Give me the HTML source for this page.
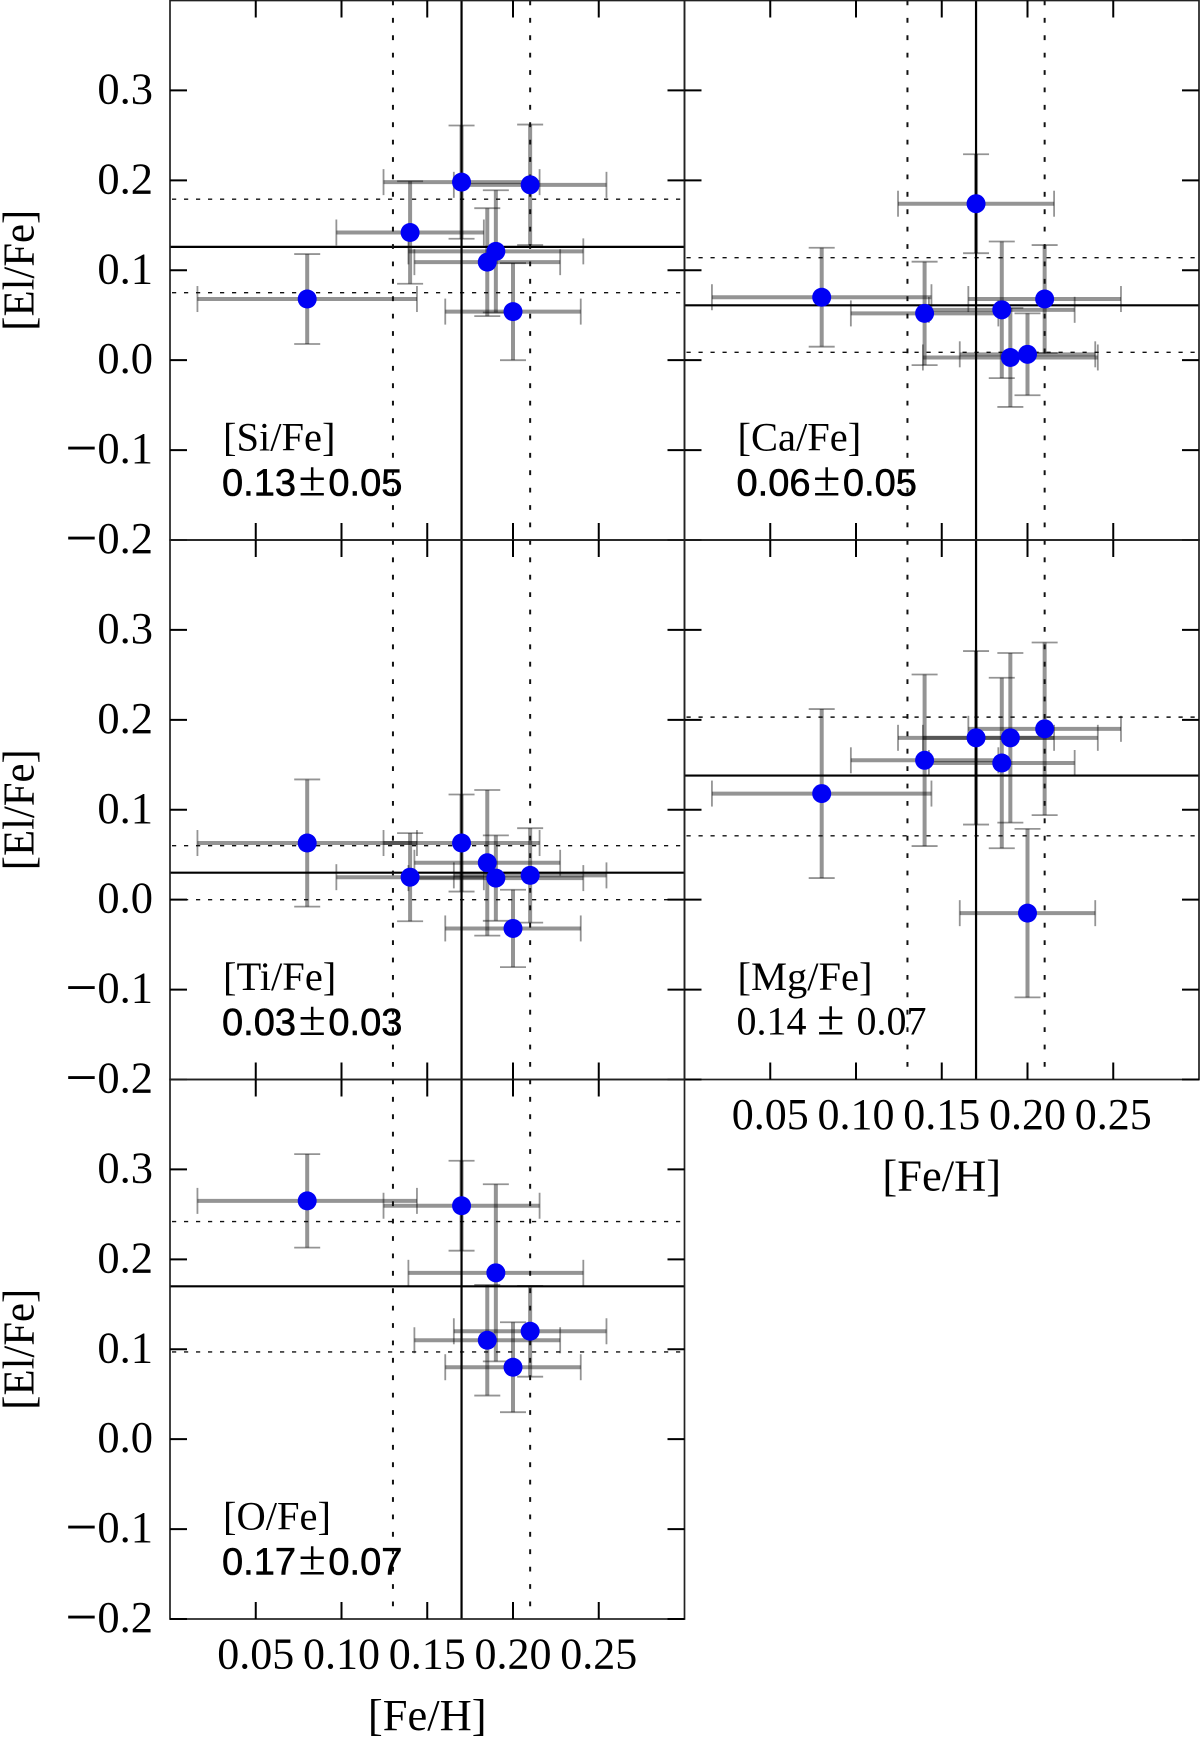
<!DOCTYPE html>
<html lang="en">
<head>
<meta charset="utf-8">
<title>[El/Fe] versus [Fe/H]</title>
<style>
html,body{margin:0;padding:0;background:#fff;}
svg{display:block;}
text{fill:#000;}
.serif{font-family:"Liberation Serif","DejaVu Serif",serif;}
.sans{font-family:"Liberation Sans","DejaVu Sans",sans-serif;}
</style>
</head>
<body>
<svg id="chart" xmlns="http://www.w3.org/2000/svg" width="1200" height="1741" viewBox="0 0 1200 1741"></svg>
<script>
const fehValues = [0.08, 0.14, 0.17, 0.185, 0.19, 0.20, 0.21];
const fehErrors = [0.064, 0.043, 0.0455, 0.0425, 0.051, 0.0395, 0.0445];
const fehReference = [0.17, 0.13, 0.21];

const siValues = [0.068, 0.142, 0.198, 0.109, 0.121, 0.054, 0.195];
const siErrors = [0.050, 0.057, 0.063, 0.060, 0.068, 0.054, 0.067];
const siReference = [0.126, 0.179, 0.075];

const caValues = [0.070, 0.052, 0.174, 0.056, 0.003, 0.0065, 0.068];
const caErrors = [0.055, 0.0575, 0.055, 0.076, 0.055, 0.0455, 0.060];
const caReference = [0.061, 0.114, 0.0087];

const tiValues = [0.063, 0.025, 0.063, 0.041, 0.024, -0.032, 0.027];
const tiErrors = [0.0707, 0.049, 0.054, 0.081, 0.0475, 0.043, 0.0525];
const tiReference = [0.030, 0.060, 0.000];

const mgValues = [0.118, 0.155, 0.180, 0.152, 0.180, -0.015, 0.190];
const mgErrors = [0.094, 0.0954, 0.0965, 0.0948, 0.0943, 0.0937, 0.096];
const mgReference = [0.138, 0.203, 0.071];

const oValues = [0.265, null, 0.2596, 0.110, 0.185, 0.080, 0.120];
const oErrors = [0.052, null, 0.050, 0.0615, 0.0985, 0.050, 0.0505];
const oReference = [0.170, 0.242, 0.097];

const xTicks = [0.05, 0.10, 0.15, 0.20, 0.25];
const xTickLabels = ['0.05', '0.10', '0.15', '0.20', '0.25'];
const yTicks = [-0.2, -0.1, 0.0, 0.1, 0.2, 0.3];
const yTickLabels = ['\u22120.2', '\u22120.1', '0.0', '0.1', '0.2', '0.3'];

const svgNS = 'http://www.w3.org/2000/svg';
const chart = document.getElementById('chart');
const PANEL_W = 514.5;
const PANEL_H = 539.5;
const LEFT = 170;
const TOP = 0.5;

function makeAxes(col, row) {
  const left = LEFT + col * PANEL_W;
  const top = TOP + row * PANEL_H;
  return {
    left: left,
    top: top,
    right: left + PANEL_W,
    bottom: top + PANEL_H,
    x: function (v) { return left + (v / 0.3) * PANEL_W; },
    y: function (v) { return top + ((0.4 - v) / 0.6) * PANEL_H; }
  };
}

function addLine(parent, name, x1, y1, x2, y2, stroke, width, dash) {
  const el = document.createElementNS(svgNS, 'line');
  
  
  el.setAttribute('x1', x1);
  el.setAttribute('y1', y1);
  el.setAttribute('x2', x2);
  el.setAttribute('y2', y2);
  el.setAttribute('stroke', stroke);
  el.setAttribute('stroke-width', width);
  if (dash) el.setAttribute('stroke-dasharray', dash);
  parent.appendChild(el);
  return el;
}

function addText(parent, name, str, x, y, size, cls, anchor) {
  const el = document.createElementNS(svgNS, 'text');
  
  
  el.setAttribute('x', x);
  el.setAttribute('y', y);
  el.setAttribute('font-size', size);
  el.setAttribute('class', cls);
  el.setAttribute('text-anchor', anchor || 'start');
  el.textContent = str;
  parent.appendChild(el);
  return el;
}

function addSpan(parent, str, size, dy, dx, cls, noStroke) {
  const span = document.createElementNS(svgNS, 'tspan');
  if (size) span.setAttribute('font-size', size);
  if (dy) span.setAttribute('dy', dy);
  if (dx) span.setAttribute('dx', dx);
  if (cls) span.setAttribute('class', cls);
  if (noStroke) span.setAttribute('stroke', 'none');
  span.textContent = str;
  parent.appendChild(span);
  return span;
}

function addGroup(parent, name) {
  const el = document.createElementNS(svgNS, 'g');
  
  
  parent.appendChild(el);
  return el;
}

function addTickLabelY(parent, name, label, x, y) {
  const el = addText(parent, name, '', x, y, 44.5, 'serif', 'end');
  if (label.charAt(0) === '\u2212') {
    addSpan(el, '\u2212', 57, 4, 0);
    addSpan(el, label.slice(1), 0, -4, 0);
  } else {
    el.textContent = label;
  }
  return el;
}

function drawPanel(key, col, row, values, errors, reference, showYLabels, showXLabels) {
  const ax = makeAxes(col, row);
  const g = addGroup(chart, key + '-panel');
  const CAP = 13;
  const BAR = 'rgba(0,0,0,0.42)';

  // x and y error bars
  const bars = addGroup(g, key + '-error-bars');
  values.forEach(function (v, i) {
    if (v === null) return;
    const cx = ax.x(fehValues[i]);
    const cy = ax.y(v);
    const xa = ax.x(fehValues[i] - fehErrors[i]);
    const xb = ax.x(fehValues[i] + fehErrors[i]);
    const ya = ax.y(v + errors[i]);
    const yb = ax.y(v - errors[i]);
    addLine(bars, key + '-x-error-' + i, xa, cy, xb, cy, BAR, 4);
    addLine(bars, key + '-y-error-' + i, cx, ya, cx, yb, BAR, 4);
    addLine(bars, key + '-x-cap-low-' + i, xa, cy - CAP, xa, cy + CAP, BAR, 1.8);
    addLine(bars, key + '-x-cap-high-' + i, xb, cy - CAP, xb, cy + CAP, BAR, 1.8);
    addLine(bars, key + '-y-cap-high-' + i, cx - CAP, ya, cx + CAP, ya, BAR, 1.8);
    addLine(bars, key + '-y-cap-low-' + i, cx - CAP, yb, cx + CAP, yb, BAR, 1.8);
  });

  // reference lines: mean and one-sigma limits
  addLine(g, key + '-mean-line', ax.left, ax.y(reference[0]), ax.right, ax.y(reference[0]), '#000', 2.2);
  addLine(g, key + '-upper-sigma-line', ax.left + 2, ax.y(reference[1]), ax.right, ax.y(reference[1]), '#111', 1.4, '4.2 7.8');
  addLine(g, key + '-lower-sigma-line', ax.left + 2, ax.y(reference[2]), ax.right, ax.y(reference[2]), '#111', 1.4, '4.2 7.8');
  addLine(g, key + '-feh-mean-line', ax.x(fehReference[0]), ax.top, ax.x(fehReference[0]), ax.bottom, '#000', 2.2);
  addLine(g, key + '-feh-lower-line', ax.x(fehReference[1]), ax.top, ax.x(fehReference[1]), ax.bottom, '#111', 2, '4.8 12.6');
  addLine(g, key + '-feh-upper-line', ax.x(fehReference[2]), ax.top, ax.x(fehReference[2]), ax.bottom, '#111', 2, '4.8 12.6');

  // frame
  const frame = document.createElementNS(svgNS, 'rect');
  
  
  frame.setAttribute('x', ax.left);
  frame.setAttribute('y', ax.top);
  frame.setAttribute('width', PANEL_W);
  frame.setAttribute('height', PANEL_H);
  frame.setAttribute('fill', 'none');
  frame.setAttribute('stroke', '#222');
  frame.setAttribute('stroke-width', '1.7');
  g.appendChild(frame);

  // ticks
  const TICK = 17;
  xTicks.forEach(function (t, i) {
    const px = ax.x(t);
    addLine(g, key + '-x-tick-bottom-' + i, px, ax.bottom, px, ax.bottom - TICK, '#000', 2);
    addLine(g, key + '-x-tick-top-' + i, px, ax.top, px, ax.top + TICK, '#000', 2);
    if (showXLabels) {
      addText(g, key + '-x-tick-label-' + i, xTickLabels[i], px, ax.bottom + 49.5, 44, 'serif', 'middle');
    }
  });
  yTicks.forEach(function (t, i) {
    const py = ax.y(t);
    addLine(g, key + '-y-tick-left-' + i, ax.left, py, ax.left + TICK, py, '#000', 2);
    addLine(g, key + '-y-tick-right-' + i, ax.right, py, ax.right - TICK, py, '#000', 2);
    if (showYLabels) {
      addTickLabelY(g, key + '-y-tick-label-' + i, yTickLabels[i], ax.left - 17, py + 13);
    }
  });

  // data points on top
  const points = addGroup(g, key + '-points');
  values.forEach(function (v, i) {
    if (v === null) return;
    const c = document.createElementNS(svgNS, 'circle');
    
    
    c.setAttribute('cx', ax.x(fehValues[i]));
    c.setAttribute('cy', ax.y(v));
    c.setAttribute('r', 9.5);
    c.setAttribute('fill', '#0000f5');
    points.appendChild(c);
  });

  return { g: g, ax: ax };
}

function addAnnotation(panel, key, title, mean, spread, serifSummary) {
  const ax = panel.ax;
  addText(panel.g, key + '-element-label', title, ax.left + 53, ax.bottom - 89.5, 40.5, 'serif');
  let s;
  if (serifSummary) {
    s = addText(panel.g, key + '-abundance-value', '', ax.left + 52, ax.bottom - 45, 40, 'serif');
    addSpan(s, mean, 0, 0, 0);
    addSpan(s, '\u00B1', 50, 0, 10.5, 'serif');
    addSpan(s, spread, 0, 0, 12);
  } else {
    s = addText(panel.g, key + '-abundance-value', '', ax.left + 52, ax.bottom - 44.5, 38, 'sans');
    s.setAttribute('stroke', '#000');
    s.setAttribute('stroke-width', '0.6');
    addSpan(s, mean, 0, 0, 0);
    addSpan(s, '\u00B1', 50, 0, 2.5, 'serif', true);
    addSpan(s, spread, 0, 0, 2.5);
  }
}

function addYTitle(panel, key) {
  const cy = (panel.ax.top + panel.ax.bottom) / 2;
  const el = addText(panel.g, key + '-y-axis-title', '[El/Fe]', 0, 0, 44, 'serif', 'middle');
  el.setAttribute('transform', 'translate(33.5 ' + cy + ') rotate(-90)');
  el.setAttribute('textLength', '121');
  el.setAttribute('lengthAdjust', 'spacingAndGlyphs');
}

function addXTitle(panel, key) {
  const cx = panel.ax.left + PANEL_W * 0.5;
  addText(panel.g, key + '-x-axis-title', '[Fe/H]', cx, panel.ax.bottom + 111, 44.5, 'serif', 'middle');
}

const siPanel = drawPanel('si', 0, 0, siValues, siErrors, siReference, true, false);
addAnnotation(siPanel, 'si', '[Si/Fe]', '0.13', '0.05', false);
addYTitle(siPanel, 'si');

const caPanel = drawPanel('ca', 1, 0, caValues, caErrors, caReference, false, false);
addAnnotation(caPanel, 'ca', '[Ca/Fe]', '0.06', '0.05', false);

const tiPanel = drawPanel('ti', 0, 1, tiValues, tiErrors, tiReference, true, false);
addAnnotation(tiPanel, 'ti', '[Ti/Fe]', '0.03', '0.03', false);
addYTitle(tiPanel, 'ti');

const mgPanel = drawPanel('mg', 1, 1, mgValues, mgErrors, mgReference, false, true);
addAnnotation(mgPanel, 'mg', '[Mg/Fe]', '0.14', '0.07', true);
addXTitle(mgPanel, 'mg');

const oPanel = drawPanel('o', 0, 2, oValues, oErrors, oReference, true, true);
addAnnotation(oPanel, 'o', '[O/Fe]', '0.17', '0.07', false);
addYTitle(oPanel, 'o');
addXTitle(oPanel, 'o');
</script>
</body>
</html>
